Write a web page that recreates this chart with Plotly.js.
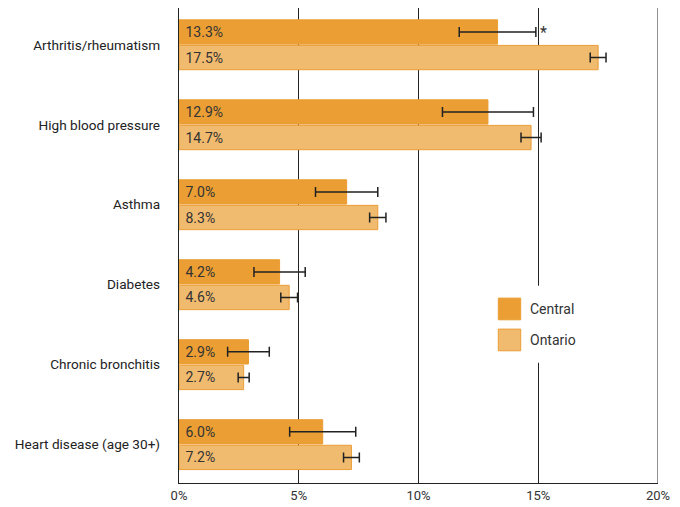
<!DOCTYPE html>
<html>
<head>
<meta charset="utf-8">
<script src="https://cdn.plot.ly/plotly-3.0.1.min.js"></script>
<style>html,body{margin:0;padding:0;background:#fff;}#chart{width:680px;height:507px;}</style>
</head>
<body>
<div id="chart"></div>
<script>
const categories = ["Arthritis/rheumatism", "High blood pressure", "Asthma", "Diabetes", "Chronic bronchitis", "Heart disease (age 30+)"];
const centralValues = [13.3, 12.9, 7.0, 4.2, 2.9, 6.0];
const centralErrors = [1.6, 1.9, 1.3, 1.07, 0.87, 1.38];
const ontarioValues = [17.5, 14.7, 8.3, 4.6, 2.7, 7.2];
const ontarioErrors = [0.33, 0.42, 0.34, 0.35, 0.23, 0.33];
const seriesNames = ["Central", "Ontario"];
const xTickValues = [0, 5, 10, 15, 20];
const xTickLabels = ["0%", "5%", "10%", "15%", "20%"];

const fmt = v => "\u00a0" + v.toFixed(1) + "%";
const font = "Roboto, 'Liberation Sans', Arial, sans-serif";

const errStyle = {type: "data", visible: true, color: "#222", thickness: 1.5, width: 5};

const traces = [
  {
    type: "bar", orientation: "h", name: seriesNames[0],
    y: categories, x: centralValues,
    text: centralValues.map(fmt), textposition: "inside", insidetextanchor: "start",
    textfont: {family: font, size: 14, color: "#333"},
    marker: {color: "#EA9E33", line: {color: "#EA9E33", width: 1}},
    error_x: Object.assign({array: centralErrors}, errStyle),
    showlegend: false, hoverinfo: "none", cliponaxis: false
  },
  {
    type: "bar", orientation: "h", name: seriesNames[1],
    y: categories, x: ontarioValues,
    text: ontarioValues.map(fmt), textposition: "inside", insidetextanchor: "start",
    textfont: {family: font, size: 14, color: "#333"},
    marker: {color: "#F0BA6F", line: {color: "#EC9D35", width: 1}},
    error_x: Object.assign({array: ontarioErrors}, errStyle),
    showlegend: false, hoverinfo: "none", cliponaxis: false
  }
];

const px = x => (x - 179) / 479;
const py = y => (483.3 - y) / 475.3;

const layout = {
  width: 680, height: 507,
  margin: {l: 179, r: 22, t: 8, b: 24},
  paper_bgcolor: "#fff", plot_bgcolor: "#fff",
  barmode: "group", bargap: 0.36, bargroupgap: 0.05,
  font: {family: font, color: "#333"},
  xaxis: {
    range: [0, 20], tickvals: xTickValues, ticktext: xTickLabels,
    showgrid: true, gridcolor: "#222", gridwidth: 1,
    zeroline: false, showline: true, linecolor: "#222", linewidth: 1.2,
    ticks: "", tickfont: {family: font, size: 13, color: "#333"},
    fixedrange: true
  },
  yaxis: {
    type: "category", categoryorder: "array", categoryarray: categories,
    range: [5.48, -0.46],
    showgrid: false, zeroline: false, showline: true, linecolor: "#222", linewidth: 1.2,
    ticks: "", ticklabelstandoff: 15,
    tickfont: {family: font, size: 13.6, color: "#222"},
    fixedrange: true
  },
  shapes: [
    {type: "line", xref: "x", yref: "paper", x0: 20, x1: 20, y0: 0, y1: 1, line: {color: "#222", width: 1}},
    {type: "rect", xref: "paper", yref: "paper", x0: px(488), x1: px(600), y0: py(363), y1: py(286),
     fillcolor: "#fff", line: {width: 0}},
    {type: "rect", xref: "paper", yref: "paper", x0: px(498.3), x1: px(520.7), y0: py(320), y1: py(298.3),
     fillcolor: "#EA9E33", line: {color: "#EA9E33", width: 1}},
    {type: "rect", xref: "paper", yref: "paper", x0: px(498.3), x1: px(520.7), y0: py(351), y1: py(329.3),
     fillcolor: "#F0BA6F", line: {color: "#EC9D35", width: 1}}
  ],
  annotations: [
    {xref: "x", yref: "y", x: centralValues[0] + centralErrors[0], y: categories[0], yshift: 12,
     text: "*", showarrow: false, xanchor: "left", xshift: 2, font: {family: font, size: 16, color: "#333"}},
    {xref: "paper", yref: "paper", x: px(528), y: py(309), text: seriesNames[0],
     showarrow: false, xanchor: "left", yanchor: "middle", font: {family: font, size: 14, color: "#333"}},
    {xref: "paper", yref: "paper", x: px(528), y: py(340), text: seriesNames[1],
     showarrow: false, xanchor: "left", yanchor: "middle", font: {family: font, size: 14, color: "#333"}}
  ]
};

Plotly.newPlot("chart", traces, layout, {displayModeBar: false, staticPlot: true});
</script>
</body>
</html>
